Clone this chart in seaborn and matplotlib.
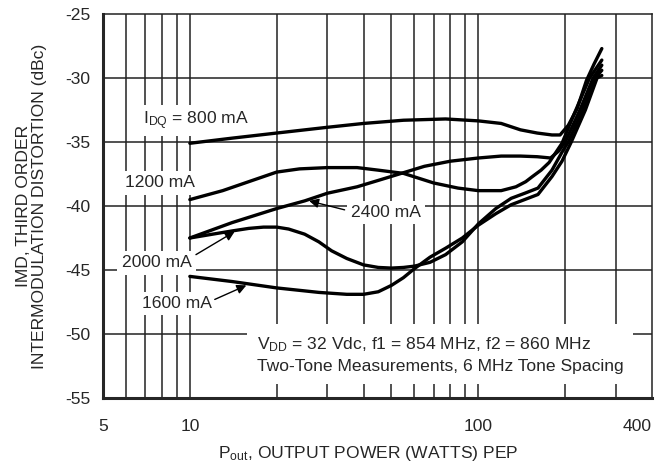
import matplotlib
matplotlib.use("Agg")
import matplotlib.pyplot as plt
import seaborn as sns

# IMD vs output power, one curve per quiescent current
x_800 = [10, 14, 20, 30, 40, 55, 77, 100, 120, 140, 160, 180, 192, 205, 220, 237, 252, 268]
y_800 = [-35.1, -34.7, -34.3, -33.85, -33.55, -33.3, -33.2, -33.35, -33.55, -34.05, -34.3, -34.45, -34.45, -33.7, -32.4, -30.2, -28.9, -27.7]

x_1200 = [10, 13, 16, 20, 24, 30, 38, 45, 55, 70, 85, 100, 120, 135, 146, 154, 165, 176, 195, 215, 243, 268]
y_1200 = [-39.5, -38.8, -38.1, -37.35, -37.1, -37.0, -37.0, -37.2, -37.45, -38.2, -38.6, -38.8, -38.8, -38.5, -38.1, -37.7, -37.2, -36.6, -35.1, -32.8, -30.0, -28.6]

x_2400 = [10, 14, 20, 25, 30, 38, 45, 55, 65, 80, 100, 120, 140, 160, 178, 190, 200, 225, 250, 268]
y_2400 = [-42.5, -41.3, -40.2, -39.6, -39.0, -38.5, -38.0, -37.4, -36.9, -36.5, -36.25, -36.1, -36.1, -36.15, -36.25, -35.7, -35.0, -32.5, -30.0, -29.0]

x_2000 = [10, 12, 14, 16, 18, 20, 22, 25, 28, 31, 35, 40, 45, 50, 55, 60, 68, 77, 88, 100, 115, 130, 145, 161, 180, 195, 205, 230, 254, 268]
y_2000 = [-42.5, -42.2, -41.95, -41.75, -41.65, -41.65, -41.8, -42.2, -42.8, -43.5, -44.1, -44.6, -44.8, -44.85, -44.8, -44.7, -44.4, -43.8, -42.8, -41.4, -40.2, -39.4, -39.0, -38.6, -37.2, -35.8, -35.0, -32.5, -30.0, -29.4]

x_1600 = [10, 14, 20, 28, 35, 40, 45, 50, 55, 60, 68, 77, 88, 100, 115, 130, 161, 180, 195, 210, 235, 258, 268]
y_1600 = [-45.5, -45.9, -46.4, -46.75, -46.9, -46.9, -46.7, -46.2, -45.6, -44.9, -44.0, -43.3, -42.5, -41.5, -40.6, -39.9, -39.1, -37.7, -36.5, -35.0, -32.5, -30.0, -29.8]

curvas = [(x_800, y_800), (x_1200, y_1200), (x_2400, y_2400), (x_2000, y_2000), (x_1600, y_1600)]

x_grid = [6, 7, 8, 9, 10, 20, 30, 40, 50, 60, 70, 80, 90, 100, 200, 300]
x_ticks = [5, 10, 100, 400]
y_ticks = [-55, -50, -45, -40, -35, -30, -25]

FS = 12.6

sns.set_style("white")
plt.rcParams['font.family'] = ['Liberation Sans', 'DejaVu Sans']
plt.rcParams['mathtext.fontset'] = 'custom'
plt.rcParams['mathtext.rm'] = 'Liberation Sans'
plt.rcParams['mathtext.it'] = 'Liberation Sans'

fig = plt.figure(figsize=(6.56, 4.68), dpi=100)
ax = fig.add_axes([103/656, 1 - 398/468, 549/656, 384/468])

ax.set_xscale('log')
ax.set_xlim(5, 400)
ax.set_ylim(-55, -25)

# grid a mano, todas las lineas iguales
for gx in x_grid:
    ax.axvline(gx, color='#222222', lw=1.1, zorder=1)
for gy in y_ticks[1:-1]:
    ax.axhline(gy, color='#222222', lw=1.1, zorder=1)

for xs, ys in curvas:
    sns.lineplot(x=xs, y=ys, ax=ax, color='black', lw=2.4, sort=False,
                 estimator=None, zorder=4)

ax.set_xticks(x_ticks)
ax.set_xticklabels(['5', '10', '100', '400'])
ax.set_xticks([], minor=True)
ax.set_yticks(y_ticks)
ax.set_yticklabels([str(v) for v in y_ticks])
ax.tick_params(axis='both', length=0, labelsize=FS)
ax.tick_params(axis='x', pad=15)
ax.tick_params(axis='y', pad=9)
ax.get_xticklabels()[-1].set_ha('right')

for lado in ['left', 'bottom']:
    ax.spines[lado].set_linewidth(2.2)
for lado in ['top', 'right']:
    ax.spines[lado].set_linewidth(1.1)
    ax.spines[lado].set_color('#222222')
for sp in ax.spines.values():
    sp.set_zorder(5)

# cajas blancas tapan el grid pero no las curvas
caja = dict(facecolor='white', edgecolor='none', pad=3)
ax.text(6.9, -33.3, 'I$_{\\mathrm{DQ}}$ = 800 mA', fontsize=FS, va='center', ha='left', bbox=caja, zorder=3)
ax.text(5.96, -38.2, '1200 mA', fontsize=FS, va='center', ha='left', bbox=caja, zorder=3)
ax.text(36.3, -40.5, '2400 mA', fontsize=FS, va='center', ha='left', bbox=caja, zorder=3)
ax.text(5.8, -44.45, '2000 mA', fontsize=FS, va='center', ha='left', bbox=caja, zorder=3)
ax.text(6.8, -47.6, '1600 mA', fontsize=FS, va='center', ha='left', bbox=caja, zorder=3)

flecha = dict(arrowstyle='-|>', color='black', lw=1.0, mutation_scale=14, shrinkA=0, shrinkB=0)
ax.annotate('', xy=(25.9, -39.6), xytext=(34.4, -40.3), arrowprops=flecha, zorder=4)
ax.annotate('', xy=(14.3, -42.0), xytext=(10.5, -43.8), arrowprops=flecha, zorder=4)
ax.annotate('', xy=(15.7, -46.2), xytext=(12.2, -47.3), arrowprops=flecha, zorder=4)

ax.text(17.1, -51.6,
        'V$_{\\mathrm{DD}}$ = 32 Vdc, f1 = 854 MHz, f2 = 860 MHz\n'
        'Two-Tone Measurements, 6 MHz Tone Spacing',
        fontsize=FS, va='center', ha='left', linespacing=1.4,
        bbox=dict(facecolor='white', edgecolor='none', pad=7), zorder=3)

ax.set_xlabel('P$_{\\mathrm{out}}$, OUTPUT POWER (WATTS) PEP', fontsize=FS)
ax.xaxis.set_label_coords(0.483, -0.12)
ax.set_ylabel('IMD, THIRD ORDER\nINTERMODULATION DISTORTION (dBc)', fontsize=FS, linespacing=1.1)
ax.yaxis.set_label_coords(-0.102, 0.5)

fig.savefig('out.png', dpi=100)
